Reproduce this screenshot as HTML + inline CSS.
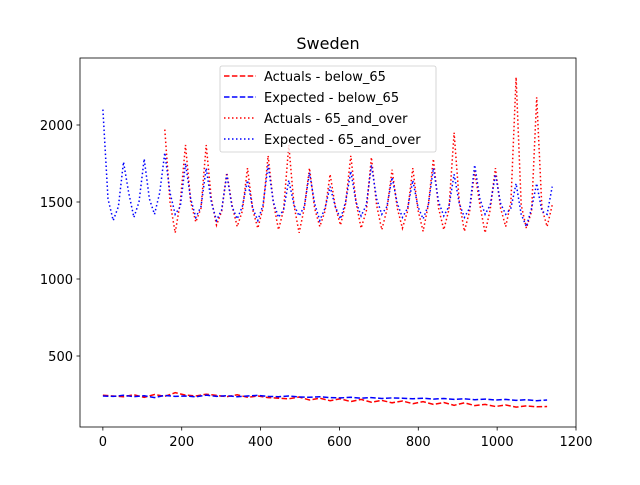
<!DOCTYPE html>
<html><head><meta charset="utf-8"><style>
body{margin:0;background:#fff}
text{font-family:"DejaVu Sans","Liberation Sans",sans-serif}
</style></head><body>
<svg id="chart" width="640" height="480" xmlns="http://www.w3.org/2000/svg"></svg>
<script>
const xStepBig = 13.1;
const xStepSmall = 26.2;
const expected65 = [2100,1520,1380,1470, 1760,1560,1400,1500, 1780,1520,1420,1560, 1820,1560,1420,1470, 1750,1520,1400,1470, 1720,1500,1380,1450, 1680,1470,1390,1470, 1640,1460,1380,1480, 1740,1500,1400,1450, 1640,1480,1410,1470, 1690,1490,1380,1460, 1600,1470,1390,1500, 1700,1500,1410,1480, 1740,1520,1420,1470, 1660,1490,1400,1460, 1640,1470,1390,1480, 1720,1500,1410,1470, 1680,1490,1400,1460, 1740,1520,1420,1480, 1680,1490,1420,1460, 1620,1420,1340,1460, 1620,1440,1420,1600];
const actual65 = [null,null,null,null, null,null,null,null, null,null,null,null, 1970,1500,1300,1500, 1870,1500,1370,1460, 1870,1520,1350,1440, 1690,1480,1340,1440, 1720,1450,1330,1460, 1800,1500,1320,1450, 1870,1480,1300,1460, 1720,1460,1340,1440, 1680,1470,1350,1490, 1800,1500,1330,1440, 1790,1480,1320,1450, 1710,1460,1330,1440, 1720,1450,1310,1480, 1780,1460,1320,1450, 1950,1500,1310,1440, 1700,1480,1300,1450, 1720,1460,1340,1500, 2310,1480,1330,1440, 2180,1460,1340,1480];
const expectedBelow = [240,238,245,236,242,230,244,238,240,235,246,238,242,236,240,244,238,236,240,234,232,236,230,228,232,226,230,224,228,226,222,226,220,224,218,222,216,220,214,218,212,216,210,214];
const actualBelow = [245,240,236,248,232,250,238,262,246,240,252,244,236,248,232,240,230,226,222,234,214,226,210,222,204,218,200,212,196,208,190,204,186,198,180,196,178,186,172,182,168,176,170,172];
const xTicks = [0,200,400,600,800,1000,1200];
const yTicks = [500,1000,1500,2000];

const svg = document.getElementById('chart');
const NS = 'http://www.w3.org/2000/svg';
const L=80,R=576,T=58,B=427, X0=-58,X1=1200, Y0=39,Y1=2435;
const sx = v => L+(v-X0)/(X1-X0)*(R-L);
const sy = v => B-(v-Y0)/(Y1-Y0)*(B-T);
function mk(tag, attrs, parent){const e=document.createElementNS(NS,tag);for(const k in attrs)e.setAttribute(k,attrs[k]);(parent||svg).appendChild(e);return e;}

function series(vals, step, color, dash, name){
  let d='', pen=false;
  vals.forEach((v,i)=>{ if(v===null){pen=false;return;} d+=(pen?'L':'M')+sx(i*step).toFixed(1)+','+sy(v).toFixed(1); pen=true;});
  const p = mk('path',{d:d,fill:'none',stroke:color,'stroke-width':1.5,'stroke-dasharray':dash});
  
  
}
series(actualBelow, xStepSmall, '#ff0000', '5.5,2.4', 'actuals-below-65-line');
series(expectedBelow, xStepSmall, '#0000ff', '5.5,2.4', 'expected-below-65-line');
series(actual65, xStepBig, '#ff0000', '1.5,2.5', 'actuals-65-and-over-line');
series(expected65, xStepBig, '#0000ff', '1.5,2.5', 'expected-65-and-over-line');

const frame = mk('rect',{x:L,y:T,width:R-L,height:B-T,fill:'none',stroke:'#000','stroke-width':0.8});



xTicks.forEach(t=>{
  mk('line',{x1:sx(t),x2:sx(t),y1:B,y2:B+3.5,stroke:'#000','stroke-width':0.8});
  const tx = mk('text',{x:sx(t),y:B+19,'text-anchor':'middle','font-size':13,fill:'#000'});
  tx.textContent=t;
  
  
});
yTicks.forEach(t=>{
  mk('line',{x1:L-3.5,x2:L,y1:sy(t),y2:sy(t),stroke:'#000','stroke-width':0.8});
  const tx = mk('text',{x:L-7,y:sy(t)+5,'text-anchor':'end','font-size':13,fill:'#000'});
  tx.textContent=t;
  
  
});
const title = mk('text',{x:328,y:49,'text-anchor':'middle','font-size':16,fill:'#000'});
title.textContent='Sweden';



const lg = mk('g',{});


mk('rect',{x:220,y:66,width:216,height:86,rx:2,fill:'#fff','fill-opacity':0.8,stroke:'#ccc','stroke-width':0.8},lg);
const entries=[['Actuals - below_65','#ff0000','5.5,2.4'],['Expected - below_65','#0000ff','5.5,2.4'],['Actuals - 65_and_over','#ff0000','1.5,2.5'],['Expected - 65_and_over','#0000ff','1.5,2.5']];
entries.forEach((e,i)=>{
  const y=76+i*21;
  const g = mk('g',{},lg);
  
  
  mk('line',{x1:224,x2:256,y1:y,y2:y,stroke:e[1],'stroke-width':1.5,'stroke-dasharray':e[2]},g);
  const t=mk('text',{x:264,y:y+5,'font-size':13,fill:'#000'},g);
  t.textContent=e[0];
});
</script>
</body></html>
